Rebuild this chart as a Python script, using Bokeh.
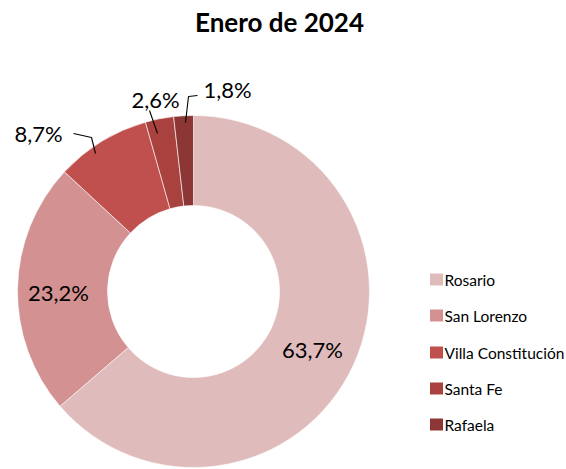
import math
from bokeh.plotting import figure
from bokeh.models import Range1d, ColumnDataSource
from bokeh.core.properties import value
from bokeh.embed import file_html
from bokeh.resources import INLINE

# ---- data ----
title_text = "Enero de 2024"
categories = ["Rosario", "San Lorenzo", "Villa Constitución", "Santa Fe", "Rafaela"]
shares = [63.7, 23.2, 8.7, 2.6, 1.8]
labels = ["63,7%", "23,2%", "8,7%", "2,6%", "1,8%"]
colors = ["#E0BBBB", "#D39191", "#C0504D", "#A9423F", "#8C3735"]

# ---- layout (screen-like coordinates) ----
W, H = 566, 469
def sx(x):  # screen x -> data x
    return x
def sy(y):  # screen y -> data y
    return H - y

cx, cy = sx(193), sy(291)
r_out, r_in = 176, 86

p = figure(width=W, height=H, output_backend="svg", toolbar_location=None,
           x_range=Range1d(0, W), y_range=Range1d(0, H), min_border=0)
p.axis.visible = False
p.grid.visible = False
p.outline_line_color = None
p.background_fill_color = "white"
p.border_fill_color = "white"

total = sum(shares)
starts, ends, mids = [], [], []
cum = 0.0
for s in shares:
    a0 = math.pi / 2 - cum / total * 2 * math.pi
    cum += s
    a1 = math.pi / 2 - cum / total * 2 * math.pi
    starts.append(a0)
    ends.append(a1)
    mids.append((a0 + a1) / 2)

src = ColumnDataSource(dict(start=starts, end=ends, color=colors, cat=categories))
p.annular_wedge(x=cx, y=cy, inner_radius=r_in, outer_radius=r_out,
                start_angle="start", end_angle="end", direction="clock",
                fill_color="color", line_color="white", line_width=0.6,
                inner_radius_units="screen", outer_radius_units="screen", source=src)

# inside labels (first two slices) at mid radius
r_mid = (r_in + r_out) / 2
lab_x, lab_y = [], []
for i in range(2):
    lab_x.append(cx + r_mid * math.cos(mids[i]) + (0 if i == 0 else -4))
    lab_y.append(cy + r_mid * math.sin(mids[i]) - 3)
p.text(x=lab_x, y=lab_y, text=labels[:2], text_align="center", text_baseline="middle",
       text_font=value("Lato"), text_font_size="22px", text_color="black")

# outside labels with leader lines
out_pos = [(sx(38), sy(133)), (sx(155), sy(99)), (sx(227), sy(89))]
leaders = [
    [(sx(73), sy(133)), (sx(91), sy(137)), (sx(95), sy(153))],
    [(sx(149), sy(110)), (sx(157), sy(133))],
    [(sx(197), sy(95)), (sx(188), sy(96)), (sx(185), sy(122))],
]
p.text(x=[q[0] for q in out_pos], y=[q[1] for q in out_pos], text=labels[2:],
       text_align="center", text_baseline="middle",
       text_font=value("Lato"), text_font_size="22px", text_color="black")
for pts in leaders:
    p.line(x=[q[0] for q in pts], y=[q[1] for q in pts], line_color="black", line_width=1.1)

# title
p.text(x=[sx(279)], y=[sy(21)], text=[title_text], text_align="center", text_baseline="middle",
       text_font=value("Lato"), text_font_style="bold", text_font_size="26px", text_color="black")

# legend (manual)
leg_y = [sy(279), sy(315), sy(352), sy(388), sy(424)]
p.rect(x=[sx(436)] * 5, y=leg_y, width=13, height=12, fill_color=colors, line_color=None)
p.text(x=[sx(444)] * 5, y=leg_y, text=categories, text_align="left", text_baseline="middle",
       text_font=value("Lato"), text_font_size="15.5px", text_color="black")

open("out.html", "w").write(file_html(p, INLINE))
